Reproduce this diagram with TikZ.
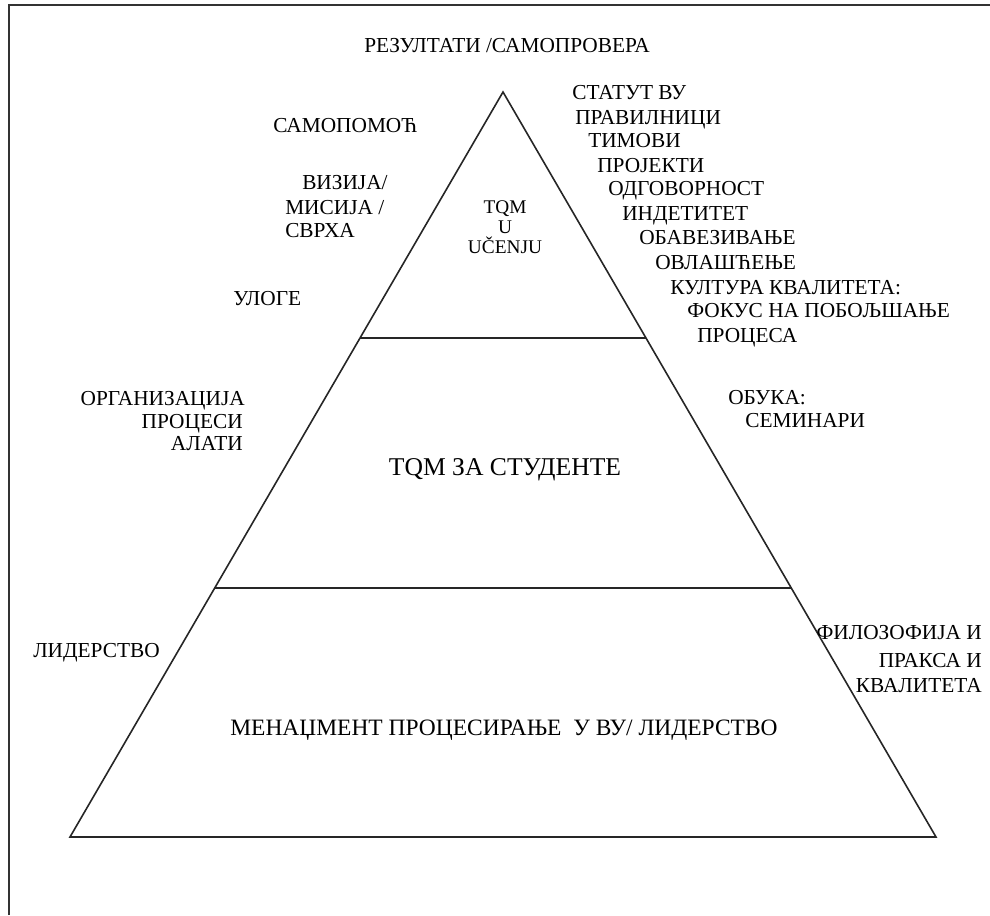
\documentclass[tikz,border=0pt]{standalone}
\usepackage{fontspec}
\setmainfont{Liberation Serif}
\usetikzlibrary{calc}
\begin{document}
\begin{tikzpicture}[x=0.75pt,y=-0.75pt,
  lbl/.style={inner sep=0pt,font=\fontsize{16}{19}\selectfont,text height=10.6pt,text depth=0pt},
  small/.style={inner sep=0pt,font=\fontsize{14.5}{17}\selectfont,text height=9.6pt,text depth=0pt},
  big/.style={inner sep=0pt,font=\fontsize{19.2}{23}\selectfont,text height=12.7pt,text depth=0pt},
  wide/.style={inner sep=0pt,font=\fontsize{17.6}{21}\selectfont,text height=11.7pt,text depth=0pt},
  lft/.style={lbl,anchor=west},
  rgt/.style={lbl,anchor=east},
  edge/.style={line width=1.2pt,black!85},
  frame/.style={line width=1.6pt,black!80}]
\useasboundingbox (0,0) rectangle (990,915);
% outer frame (only the top and left sides fall inside the page)
\draw[frame] (9,915) -- (9,5) -- (990,5);

% pyramid
\coordinate (apex) at (503,92);
\coordinate (bl) at (70,837);
\coordinate (br) at (936,837);
\coordinate (l1) at ($(apex)!0.3302!(bl)$);
\coordinate (r1) at ($(apex)!0.3302!(br)$);
\coordinate (l2) at ($(apex)!0.6658!(bl)$);
\coordinate (r2) at ($(apex)!0.6658!(br)$);
\draw[edge,line join=miter] (apex) -- (bl) -- (br) -- cycle;
\draw[edge] (l1) -- (r1);
\draw[edge] (l2) -- (r2);

% text inside the levels
\node[small] (tqm1) at (505,207) {TQM};
\node[small] (tqm2) at (505,227) {U};
\node[small] (tqm3) at (505,247) {UČENJU};
\node[big] (mid) at (505,467) {TQM ЗА СТУДЕНТЕ};
\node[wide] (base) at (504,728) {МЕНАЏМЕНТ ПРОЦЕСИРАЊЕ \ У ВУ/ ЛИДЕРСТВО};

% top label
\node[lbl] (res) at (507,45) {РЕЗУЛТАТИ /САМОПРОВЕРА};

% left side labels
\node[lft] (samo) at (273,125) {САМОПОМОЋ};
\node[lft] (viz) at (302,182) {ВИЗИЈА/};
\node[lft] (mis) at (285,207) {МИСИЈА /};
\node[lft] (svr) at (285,230) {СВРХА};
\node[lft] (ulo) at (233,298) {УЛОГЕ};
\node[rgt] (org) at (245,398) {ОРГАНИЗАЦИЈА};
\node[rgt] (pro) at (243,421) {ПРОЦЕСИ};
\node[rgt] (ala) at (243,443) {АЛАТИ};
\node[lft] (lid) at (33,650) {ЛИДЕРСТВО};

% right side labels
\node[lft] (r01) at (572,92) {СТАТУТ ВУ};
\node[lft] (r02) at (575,117) {ПРАВИЛНИЦИ};
\node[lft] (r03) at (588,140) {ТИМОВИ};
\node[lft] (r04) at (597,165) {ПРОЈЕКТИ};
\node[lft] (r05) at (608,188) {ОДГОВОРНОСТ};
\node[lft] (r06) at (622,213) {ИНДЕТИТЕТ};
\node[lft] (r07) at (639,237) {ОБАВЕЗИВАЊЕ};
\node[lft] (r08) at (655,262) {ОВЛАШЋЕЊЕ};
\node[lft] (r09) at (670,287) {КУЛТУРА КВАЛИТЕТА:};
\node[lft] (r10) at (687,310) {ФОКУС НА ПОБОЉШАЊЕ};
\node[lft] (r11) at (697,335) {ПРОЦЕСА};
\node[lft] (obu) at (728,397) {ОБУКА:};
\node[lft] (sem) at (745,420) {СЕМИНАРИ};
\node[rgt] (fil) at (982,632) {ФИЛОЗОФИЈА И};
\node[rgt] (pra) at (982,660) {ПРАКСА И};
\node[rgt] (kva) at (982,685) {КВАЛИТЕТА};
\end{tikzpicture}
\end{document}
